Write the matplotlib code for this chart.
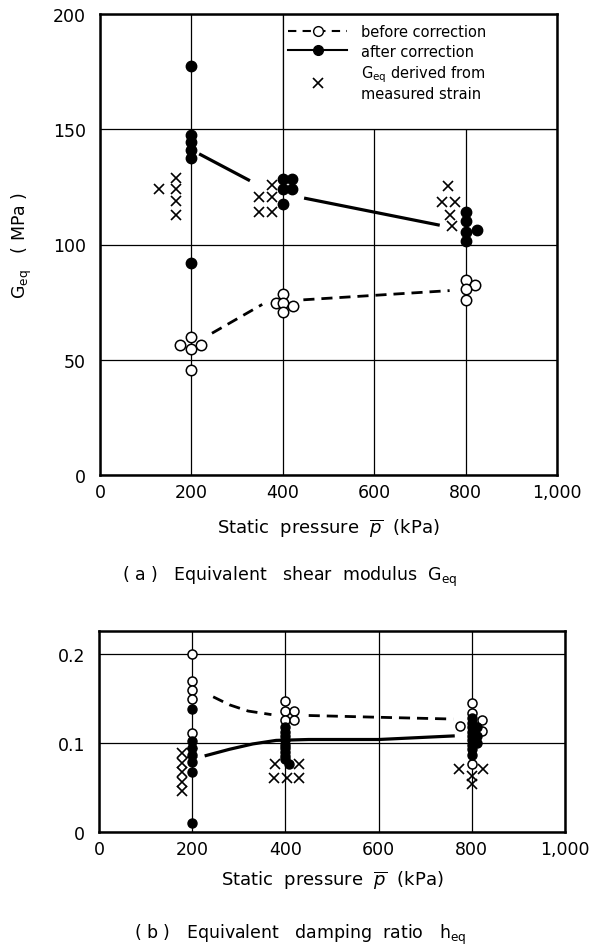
import matplotlib
matplotlib.use("Agg")
import matplotlib.pyplot as plt
from matplotlib.lines import Line2D
from matplotlib.patches import Rectangle

plt.rcParams['font.family'] = ['DejaVu Sans']
plt.rcParams['mathtext.fontset'] = 'dejavusans'

# ---------------- (a) Equivalent shear modulus Geq ----------------
xticks = [0, 200, 400, 600, 800, 1000]
xticklabels = ["0", "200", "400", "600", "800", "1,000"]
g_yticks = [0, 50, 100, 150, 200]

# before correction (open circles)
g_before_x = [200, 176, 220, 200, 200,
              400, 385, 400, 422, 400,
              800, 820, 800, 800]
g_before_y = [60, 56.5, 56.5, 54.5, 45.5,
              78.5, 74.5, 74.5, 73.5, 70.5,
              84.5, 82.5, 80.5, 76]
# after correction (filled circles)
g_after_x = [200, 200, 200, 200, 200, 200,
             400, 420, 400, 420, 400,
             800, 800, 800, 825, 800]
g_after_y = [177.5, 147.5, 144.5, 141, 137.5, 92,
             128.5, 128.5, 124, 124, 117.5,
             114, 110, 105.5, 106.5, 101.5]
# Geq derived from measured strain (crosses)
g_meas_x = [167, 167, 130, 167, 167,
            376, 348, 376, 348, 376,
            761, 749, 777, 766, 770]
g_meas_y = [129, 124, 124, 119, 113,
            126, 120.5, 120.5, 114, 114,
            125.5, 118.5, 118.5, 113, 108]
# trend curves (drawn with gaps at the marker clusters)
g_before_curve = [([245, 355], [61.5, 74]), ([445, 765], [76, 80])]
g_after_curve = [([220, 325], [139, 128]), ([450, 740], [120, 108.5])]

# ---------------- (b) Equivalent damping ratio heq ----------------
h_yticks = [0, 0.1, 0.2]
h_yticklabels = ["0", "0.1", "0.2"]

h_before_x = [200, 200, 200, 200, 200,
              400, 400, 418, 400, 418,
              800, 800, 775, 822, 822, 800]
h_before_y = [0.2, 0.17, 0.16, 0.15, 0.111,
              0.147, 0.136, 0.136, 0.126, 0.126,
              0.145, 0.134, 0.119, 0.126, 0.114, 0.077]
h_after_x = [200, 200, 200, 200, 200, 200, 200,
             400, 400, 400, 400, 400, 400, 400, 400, 400, 408,
             800, 800, 800, 800, 800, 800, 800, 800, 800, 812, 812, 812]
h_after_y = [0.138, 0.102, 0.095, 0.087, 0.079, 0.067, 0.01,
             0.118, 0.113, 0.108, 0.103, 0.098, 0.094, 0.09, 0.086, 0.082, 0.076,
             0.128, 0.123, 0.118, 0.113, 0.108, 0.103, 0.098, 0.093, 0.087, 0.118, 0.108, 0.1]
h_meas_x = [178, 178, 178, 178, 178, 200,
            378, 430, 376, 404, 430,
            772, 825, 800, 800]
h_meas_y = [0.089, 0.078, 0.067, 0.056, 0.046, 0.089,
            0.076, 0.076, 0.061, 0.061, 0.061,
            0.071, 0.071, 0.063, 0.054]
h_before_curve = [([245, 280, 320, 370], [0.152, 0.143, 0.136, 0.132]),
                  ([450, 600, 760], [0.131, 0.129, 0.127])]
h_after_curve = [([230, 280, 330, 380, 450, 600, 760],
                  [0.086, 0.093, 0.099, 0.103, 0.104, 0.104, 0.108])]

W, H = 592, 953
fig = plt.figure(figsize=(W / 100, H / 100), dpi=100)


def ax_rect(l, t, r, b):
    return [l / W, 1 - b / H, (r - l) / W, (b - t) / H]


def style(ax):
    ax.set_axisbelow(True)
    ax.grid(True, color='black', lw=0.9)
    for s in ax.spines.values():
        s.set_linewidth(1.8)
    ax.tick_params(length=0, labelsize=12.5)


def draw(ax, bx, by, ax_, ay, mx, my, bcurve, acurve, ms, mew):
    for cx, cy in bcurve:
        ax.plot(cx, cy, color='black', lw=2.0, ls=(0, (4, 2.5)), zorder=3)
    for cx, cy in acurve:
        ax.plot(cx, cy, color='black', lw=2.3, zorder=3)
    ax.plot(mx, my, ls='none', marker='x', ms=ms, mew=1.2, color='black', zorder=4)
    ax.plot(bx, by, ls='none', marker='o', ms=ms, mfc='white', mec='black', mew=mew, zorder=4)
    ax.plot(ax_, ay, ls='none', marker='o', ms=ms, mfc='black', mec='black', zorder=5)


# ---- top panel
ax1 = fig.add_axes(ax_rect(100, 15, 557, 476))
style(ax1)
ax1.set_xlim(0, 1000)
ax1.set_ylim(0, 200)
ax1.set_xticks(xticks)
ax1.set_xticklabels(xticklabels)
ax1.set_yticks(g_yticks)
ax1.tick_params(axis='y', pad=10)
ax1.tick_params(axis='x', pad=6)
ax1.add_patch(Rectangle((400, 150), 600, 50, facecolor='white', edgecolor='black',
                        lw=0.9, zorder=1))
draw(ax1, g_before_x, g_before_y, g_after_x, g_after_y, g_meas_x, g_meas_y,
     g_before_curve, g_after_curve, ms=7.5, mew=1.1)
ax1.set_xlabel(r"Static  pressure  $\overline{p}$  (kPa)", fontsize=13, labelpad=11)
ax1.set_ylabel(r"G$_{\rm eq}$   ( MPa )", fontsize=12.5, labelpad=14)

handles = [
    Line2D([], [], color='black', lw=1.5, ls=(0, (4, 3)), marker='o', ms=7, mfc='white', mec='black'),
    Line2D([], [], color='black', lw=1.5, marker='o', ms=7, mfc='black', mec='black'),
    Line2D([], [], color='black', ls='none', marker='x', ms=7, mew=1.2),
]
labels = ["before correction", "after correction", "G$_{\\rm eq}$ derived from\nmeasured strain"]
ax1.legend(handles, labels, loc='upper left', bbox_to_anchor=(0.39, 1.0), frameon=False,
           fontsize=10.5, handlelength=4.0, handletextpad=1.0, labelspacing=0.3,
           borderaxespad=0.3)

fig.text(290 / W, 1 - 577 / H, "( a )   Equivalent   shear  modulus  G$_{\\rm eq}$",
         ha='center', va='center', fontsize=12.5)

# ---- bottom panel
ax2 = fig.add_axes(ax_rect(99, 632, 565, 833))
style(ax2)
ax2.set_xlim(0, 1000)
ax2.set_ylim(0, 0.226)
ax2.set_xticks(xticks)
ax2.set_xticklabels(xticklabels)
ax2.set_yticks(h_yticks)
ax2.set_yticklabels(h_yticklabels)
ax2.tick_params(axis='y', pad=10)
ax2.tick_params(axis='x', pad=6)
draw(ax2, h_before_x, h_before_y, h_after_x, h_after_y, h_meas_x, h_meas_y,
     h_before_curve, h_after_curve, ms=6.5, mew=1.1)
ax2.set_xlabel(r"Static  pressure  $\overline{p}$  (kPa)", fontsize=13, labelpad=7)

fig.text(300 / W, 1 - 935 / H, "( b )   Equivalent   damping  ratio   h$_{\\rm eq}$",
         ha='center', va='center', fontsize=12.5)

fig.savefig("out.png", dpi=100)
